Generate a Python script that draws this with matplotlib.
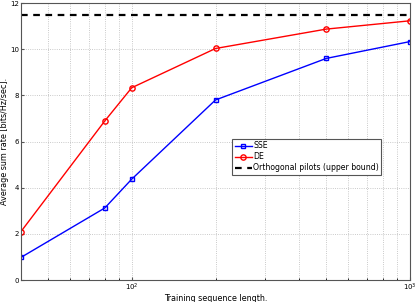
import matplotlib.pyplot as plt
from matplotlib.ticker import LogLocator, NullFormatter

train_len = [40, 80, 100, 200, 500, 1000]
sse_rate = [0.98, 3.12, 4.37, 7.8, 9.6, 10.33]
de_rate = [2.1, 6.89, 8.33, 10.03, 10.87, 11.23]
orth_bound = 11.5

fig = plt.figure(figsize=(4.15, 3.02), dpi=100)
ax = fig.add_axes([0.0506, 0.0728, 0.9374, 0.9172])

ax.plot(train_len, sse_rate, color="blue", marker="s", markersize=3.5,
        markerfacecolor="none", markeredgewidth=1, linewidth=1, label="SSE")
ax.plot(train_len, de_rate, color="red", marker="o", markersize=3.8,
        markerfacecolor="none", markeredgewidth=1, linewidth=1, label="DE")
ax.axhline(orth_bound, color="black", linestyle="--", linewidth=1.6,
           dashes=(3, 2.5), label="Orthogonal pilots (upper bound)")

ax.set_xscale("log")
ax.set_xlim(40, 1000)
ax.set_ylim(0, 12)
ax.set_yticks([0, 2, 4, 6, 8, 10, 12])
ax.xaxis.set_minor_locator(LogLocator(base=10, subs=range(2, 10)))
ax.xaxis.set_minor_formatter(NullFormatter())

ax.grid(True, which="both", linestyle=":", color="#b8b8b8", linewidth=0.6)
ax.tick_params(labelsize=5, length=2, direction="in", color="#555555", pad=1.5)
ax.tick_params(which="minor", length=1.5, direction="in")
for s in ax.spines.values():
    s.set_color("#555555")
    s.set_linewidth(0.8)

ax.set_xlabel("Training sequence length.", fontsize=5.8, labelpad=0.5)
ax.set_ylabel("Average sum rate [bits/Hz/sec].", fontsize=5.8, labelpad=1)

leg = ax.legend(loc="upper left", bbox_to_anchor=(0.543, 0.509), fontsize=5.6,
                handlelength=2.2, borderpad=0.3, labelspacing=0.25,
                handletextpad=0.2, fancybox=False, framealpha=1,
                edgecolor="#555555", borderaxespad=0)
leg.get_frame().set_linewidth(0.8)

fig.savefig("out.png", dpi=100)
